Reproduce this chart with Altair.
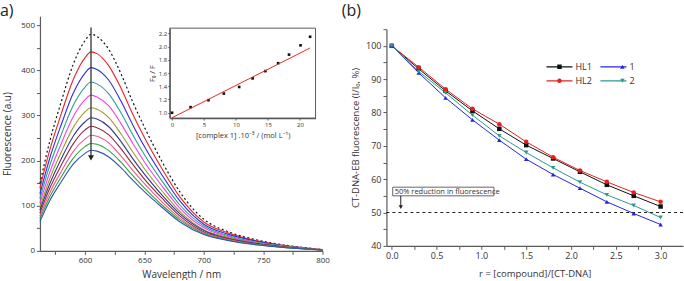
import altair as alt
import pandas as pd

FONT = "Open Sans"
INK = "#333333"
AXIS = "#5a5a5a"

# ---------------- (a) emission spectra of CT-DNA/EB on adding complex 1 ----------------
wavelength = [562, 570, 580, 590, 600, 605, 610, 620, 630, 640, 650, 665, 680, 700, 720, 745, 770, 800]
spec_free = [149, 240, 331, 413, 466, 480, 475, 446, 394, 331, 274, 197, 130, 70, 43, 24, 12, 3]
spec_added = [
    [139, 221, 304, 379, 428, 441, 437, 410, 362, 304, 251, 181, 119, 64, 40, 22, 11, 3],
    [126, 203, 280, 349, 394, 406, 402, 378, 333, 280, 231, 167, 110, 59, 37, 21, 10, 2],
    [116, 187, 258, 322, 363, 374, 370, 348, 307, 258, 213, 154, 101, 55, 34, 19, 10, 2],
    [106, 172, 238, 297, 335, 345, 341, 321, 283, 239, 197, 143, 94, 51, 32, 18, 9, 2],
    [97, 158, 219, 273, 308, 317, 314, 295, 260, 220, 182, 132, 87, 47, 30, 17, 9, 2],
    [90, 147, 204, 254, 286, 295, 292, 275, 243, 205, 170, 123, 82, 45, 28, 16, 8, 2],
    [84, 137, 190, 237, 268, 276, 273, 257, 227, 192, 159, 116, 77, 42, 27, 15, 8, 2],
    [77, 127, 176, 220, 248, 256, 254, 239, 211, 179, 149, 108, 72, 40, 25, 14, 7, 2],
    [71, 118, 164, 205, 231, 238, 236, 222, 197, 167, 139, 101, 68, 38, 24, 14, 7, 2],
    [65, 110, 153, 192, 216, 223, 221, 208, 185, 157, 131, 96, 64, 36, 23, 13, 7, 2],
]
spec_colors = ["#e5242b", "#2f2fd6", "#2f9c94", "#ea45e6", "#9c9c2e",
               "#36368e", "#8c2b3c", "#ef5a8c", "#35a040", "#2f55b5"]
arrow_wl = [605]
arrow_top = [495]
arrow_tip = [206]

# inset: Stern-Volmer plot
conc = [0, 2.9, 5.7, 8.1, 10.5, 12.6, 14.6, 16.6, 18.3, 20.1, 21.6]
f0_over_f = [1.00, 1.085, 1.19, 1.29, 1.39, 1.52, 1.63, 1.75, 1.88, 2.02, 2.15]
fit_conc = [0, 21.6]
fit_ratio = [0.925, 1.98]
inset_x_domain = [-0.36, 22.45]
inset_y_domain = [0.92, 2.28]
inset_x_ticks = [0, 5, 10, 15, 20]
inset_y_ticks = [1.0, 1.2, 1.4, 1.6, 1.8, 2.0, 2.2]

# ---------------- (b) relative EB fluorescence vs r ----------------
r_values = [0.0, 0.3, 0.6, 0.9, 1.2, 1.5, 1.8, 2.1, 2.4, 2.7, 3.0]
compounds = ["HL1", "HL2", "1", "2"]
quench = {
    "HL1": [100, 93.1, 86.5, 80.5, 75.1, 70.2, 66.2, 62.2, 58.3, 55.0, 51.8],
    "HL2": [100, 93.6, 87.0, 81.1, 76.5, 71.2, 66.6, 62.6, 59.2, 56.0, 53.2],
    "1": [100, 91.9, 84.4, 77.8, 71.7, 66.0, 61.4, 57.3, 53.2, 49.7, 46.4],
    "2": [100, 92.3, 85.9, 79.2, 73.0, 68.0, 63.4, 59.1, 55.3, 52.1, 48.5],
}
compound_colors = ["#111111", "#e8201c", "#2424e0", "#2a9a90"]
compound_shapes = ["square", "circle", "triangle-up", "triangle-down"]
half_level = [50]
note_text = ["50% reduction in fluorescence"]
note_box = {"x1": [0.01], "x2": [1.14], "y1": [55.0], "y2": [57.6]}
note_arrow = {"x": [0.1], "top": [55.0], "tip": [51.6]}

W_A, H_A = 283, 235
W_B, H_B = 297, 230


def minor_axis(values, major_test, title, **kw):
    # every tick drawn, only the major ones labelled
    return alt.Axis(
        values=values,
        tickCount=len(values),
        title=title,
        labelExpr=f"({major_test}) ? datum.label : ''",
        tickSize=3.5,
        labelOverlap=False,
        labelFlush=False,
        **kw,
    )


# ---------- panel (a) ----------
df_free = pd.DataFrame({"wl": wavelength, "val": spec_free})
rows = []
for i, vals in enumerate(spec_added):
    for w, v in zip(wavelength, vals):
        rows.append({"wl": w, "val": v, "step": f"s{i + 1}"})
df_added = pd.DataFrame(rows)
step_names = [f"s{i + 1}" for i in range(len(spec_added))]

xa = alt.Scale(domain=[562, 800], nice=False, zero=False)
ya = alt.Scale(domain=[0, 520], nice=False)

ax_wl = minor_axis(list(range(575, 801, 25)), "datum.value % 50 === 0", "Wavelength / nm",
                   orient="bottom", labelFontSize=8, titleFontSize=10,
                   labelPadding=2, titlePadding=5)
ax_fl = minor_axis(list(range(0, 501, 50)), "datum.value % 100 === 0", "Fluorescence (a.u)",
                   orient="left", labelFontSize=8, titleFontSize=10,
                   labelPadding=2, titlePadding=8)

free_line = alt.Chart(df_free).mark_line(
    color="#111111", strokeDash=[2, 2.5], strokeWidth=1.2, interpolate="monotone"
).encode(x=alt.X("wl:Q", scale=xa, axis=ax_wl), y=alt.Y("val:Q", scale=ya, axis=ax_fl))

added_lines = alt.Chart(df_added).mark_line(strokeWidth=1.1, interpolate="monotone").encode(
    x="wl:Q",
    y="val:Q",
    color=alt.Color("step:N", scale=alt.Scale(domain=step_names, range=spec_colors), legend=None),
    detail="step:N",
)

df_arrow = pd.DataFrame({"wl": arrow_wl, "val": arrow_top, "tip": arrow_tip})
arrow_shaft = alt.Chart(df_arrow).mark_rule(color="#333333", strokeWidth=1.3).encode(
    x="wl:Q", y="val:Q", y2="tip:Q")
arrow_head = alt.Chart(df_arrow).mark_point(
    shape="triangle-down", filled=True, size=36, color="#222222", opacity=1
).encode(x="wl:Q", y=alt.Y("tip:Q"))

label_a = alt.Chart(pd.DataFrame({"t": ["a)"]})).mark_text(
    align="left", baseline="top", fontSize=16, color="#222222"
).encode(text="t:N", x=alt.value(-40), y=alt.value(-13))

main_a = alt.layer(free_line, added_lines, arrow_shaft, arrow_head, label_a)

xi = alt.Scale(domain=inset_x_domain, range=[130, 276], nice=False, zero=False)
yi = alt.Scale(domain=inset_y_domain, range=[102, 12], nice=False, zero=False)
ax_ci = alt.Axis(orient="bottom", offset=-(H_A - 102), values=inset_x_ticks,
                 tickCount=len(inset_x_ticks),
                 title="[complex 1] .10⁻⁵ / (mol L⁻¹)", tickSize=2, labelFontSize=6,
                 labelPadding=1, titleFontSize=7.5, titlePadding=4, labelFlush=False,
                 labelOverlap=False)
ax_fi = alt.Axis(orient="left", offset=-130, values=inset_y_ticks, tickCount=len(inset_y_ticks),
                 format=".1f", title="F₀ / F", tickSize=2, labelFontSize=6,
                 labelPadding=1, titleFontSize=7.5, titlePadding=2, labelFlush=False,
                 labelOverlap=False)

df_sv = pd.DataFrame({"c": conc, "ratio": f0_over_f})
df_fit = pd.DataFrame({"c": fit_conc, "ratio": fit_ratio})
df_frame = pd.DataFrame({"c": [inset_x_domain[0]], "c2": [inset_x_domain[1]],
                         "ratio": [inset_y_domain[0]], "ratio2": [inset_y_domain[1]]})

sv_points = alt.Chart(df_sv).mark_square(size=7, color="#111111", opacity=1).encode(
    x=alt.X("c:Q", scale=xi, axis=ax_ci), y=alt.Y("ratio:Q", scale=yi, axis=ax_fi))
sv_fit = alt.Chart(df_fit).mark_line(color="#e8262a", strokeWidth=1).encode(
    x="c:Q", y="ratio:Q")
sv_frame = alt.Chart(df_frame).mark_rect(fillOpacity=0, stroke=AXIS, strokeWidth=1).encode(
    x="c:Q", x2="c2:Q", y="ratio:Q", y2="ratio2:Q")

inset = alt.layer(sv_points, sv_fit, sv_frame)

panel_a = alt.layer(main_a, inset).resolve_scale(x="independent", y="independent").properties(
    width=W_A, height=H_A)

# ---------- panel (b) ----------
rows_b = []
for name in compounds:
    for r, v in zip(r_values, quench[name]):
        rows_b.append({"r": r, "v": v, "compound": name})
df_b = pd.DataFrame(rows_b)

xb = alt.Scale(domain=[-0.06, 3.25], nice=False, zero=False)
yb = alt.Scale(domain=[40, 105], range=[H_B, 13], nice=False, zero=False)

r_ticks = [i * 0.25 for i in range(13)]
ax_r = minor_axis(r_ticks, "abs(datum.value * 2 - round(datum.value * 2)) < 0.001",
                  "r = [compound]/[CT-DNA]", orient="bottom", format=".1f",
                  labelFontSize=9, titleFontSize=9.5, labelPadding=2, titlePadding=8)
ax_pct = minor_axis(list(range(40, 106, 5)), "datum.value % 10 === 0",
                    "CT-DNA-EB fluorescence (I/I₀, %)", orient="left",
                    labelFontSize=9, titleFontSize=9.5, labelPadding=2, titlePadding=5)

leg_x, leg_y = 159.3, 43.7
line_legend = alt.Legend(orient="none", legendX=leg_x, legendY=leg_y, title=None, columns=2,
                         symbolType="stroke", symbolSize=676, symbolStrokeWidth=1.2,
                         clipHeight=14, rowPadding=0, columnPadding=7, labelOffset=2,
                         padding=0, labelFontSize=9, labelFont=FONT, labelColor=INK,
                         symbolOffset=0)
mark_legend = alt.Legend(orient="none", legendX=leg_x, legendY=leg_y, title=None, columns=2,
                         symbolSize=20, clipHeight=14, rowPadding=0, columnPadding=7,
                         labelOffset=21, symbolOffset=9.5, labelOpacity=0, padding=0,
                         labelFontSize=9, labelFont=FONT)

series_lines = alt.Chart(df_b).mark_line(strokeWidth=1).encode(
    x=alt.X("r:Q", scale=xb, axis=ax_r),
    y=alt.Y("v:Q", scale=yb, axis=ax_pct),
    color=alt.Color("compound:N", scale=alt.Scale(domain=compounds, range=compound_colors),
                    legend=line_legend),
)
series_points = alt.Chart(df_b).mark_point(filled=True, size=20, opacity=1).encode(
    x="r:Q",
    y="v:Q",
    color=alt.Color("compound:N", scale=alt.Scale(domain=compounds, range=compound_colors),
                    legend=mark_legend),
    shape=alt.Shape("compound:N", scale=alt.Scale(domain=compounds, range=compound_shapes),
                    legend=mark_legend),
)

half_rule = alt.Chart(pd.DataFrame({"v": half_level})).mark_rule(
    color="#222222", strokeDash=[3, 3], strokeWidth=1).encode(y="v:Q")

df_note = pd.DataFrame({"r": note_box["x1"], "r2": note_box["x2"],
                        "v": note_box["y1"], "v2": note_box["y2"], "t": note_text})
note_frame = alt.Chart(df_note).mark_rect(fillOpacity=0, stroke="#666666", strokeWidth=1).encode(
    x="r:Q", x2="r2:Q", y="v:Q", y2="v2:Q")
note_label = alt.Chart(df_note).transform_calculate(
    vm="(datum.v + datum.v2) / 2"
).mark_text(align="left", baseline="middle", fontSize=7.5, color=INK, dx=2, dy=0.5).encode(
    x="r:Q", y="vm:Q", text="t:N")

df_note_arrow = pd.DataFrame({"r": note_arrow["x"], "v": note_arrow["top"], "tip": note_arrow["tip"]})
note_shaft = alt.Chart(df_note_arrow).mark_rule(color="#222222", strokeWidth=1).encode(
    x="r:Q", y="v:Q", y2="tip:Q")
note_head = alt.Chart(df_note_arrow).mark_point(
    shape="triangle-down", filled=True, size=18, color="#222222", opacity=1
).encode(x="r:Q", y="tip:Q")

label_b = alt.Chart(pd.DataFrame({"t": ["(b)"]})).mark_text(
    align="left", baseline="top", fontSize=16, color="#222222"
).encode(text="t:N", x=alt.value(-44.7), y=alt.value(-13))

panel_b = alt.layer(
    series_lines, half_rule, note_frame, note_label, note_shaft, note_head,
    series_points, label_b,
).resolve_scale(color="independent", shape="independent").properties(width=W_B, height=H_B)

chart = alt.hconcat(panel_a, panel_b, spacing=12).properties(
    padding={"left": 0, "top": 3, "right": 0, "bottom": 0}
).configure_view(
    stroke=None
).configure_axis(
    grid=False, domainColor=AXIS, domainWidth=1.2, tickColor=AXIS, tickWidth=1,
    labelColor=INK, titleColor=INK, labelFont=FONT, titleFont=FONT, titleFontWeight="normal",
).configure_text(font=FONT)

chart.save("out.html", embed_options={"renderer": "svg", "actions": False})
